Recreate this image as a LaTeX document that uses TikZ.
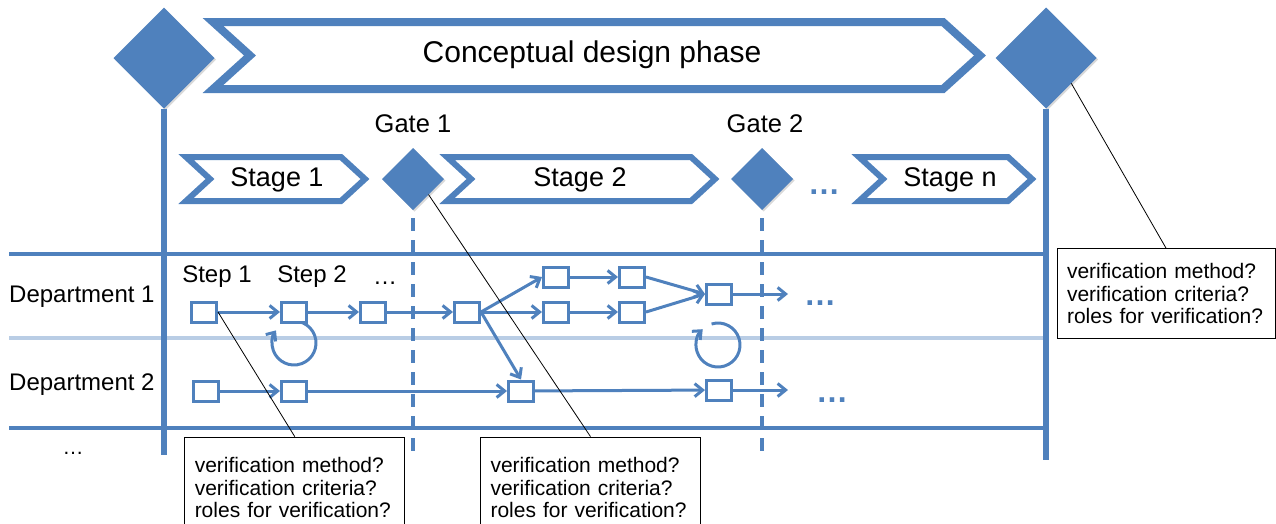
\documentclass[tikz,border=0pt]{standalone}
\usepackage{fontspec}
\setmainfont{Liberation Sans}
\usetikzlibrary{arrows.meta,shapes.geometric,shadows,calc}
\definecolor{ofblue}{HTML}{4F81BD}
\definecolor{lanefaint}{HTML}{B9CDE5}
\begin{document}
\begin{tikzpicture}[x=1pt, y=-1pt,
  lane/.style={draw=ofblue, line width=4pt},
  faint/.style={draw=lanefaint, line width=3.5pt},
  axis/.style={draw=ofblue, line width=6pt},
  gateline/.style={draw=ofblue, line width=3.5pt, dash pattern=on 13pt off 9pt},
  softshadow/.style={drop shadow={shadow xshift=1.5pt, shadow yshift=-1.5pt, opacity=.3}},
  gate/.style={diamond, fill=ofblue, inner sep=0pt, outer sep=0pt,
    minimum width=62pt, minimum height=62pt, softshadow},
  biggate/.style={gate, minimum width=101pt, minimum height=101pt},
  chev/.style={draw=ofblue, fill=white, line width=6pt, line join=miter},
  bigchev/.style={chev, line width=8pt},
  proc/.style={draw=ofblue, fill=white, line width=3pt, minimum width=25pt,
    minimum height=20pt, inner sep=0pt, softshadow},
  flow/.style={draw=ofblue, line width=3pt, -{Straight Barb[length=8pt, width=13pt]}},
  cyc/.style={draw=ofblue, line width=3pt, -{Straight Barb[length=7pt, width=12pt]}},
  note/.style={draw=black, line width=0.8pt, fill=white, align=left, text width=200pt,
    inner xsep=10pt, inner ysep=0pt, minimum height=101pt,
    font={\fontsize{21}{22.5}\selectfont}},
  callout/.style={draw=black, line width=0.8pt},
  lbl/.style={font={\fontsize{24}{28}\selectfont}, inner sep=0pt},
  stagetxt/.style={font={\fontsize{27}{30}\selectfont}, inner sep=0pt},
  more/.style={text=ofblue, font={\fontsize{32}{32}\selectfont\bfseries}, inner sep=0pt},
]
\useasboundingbox (0,0) rectangle (1276,523);

% swim lanes
\draw[lane]  (9,254) -- (1046,254);
\draw[faint] (9,338) -- (1046,338);
\draw[lane]  (9,428) -- (1046,428);

% phase boundaries
\coordinate (gLend) at (164,455);
\coordinate (gRend) at (1046,460);
\node[biggate] (gL) at (164,58) {};
\node[biggate] (gR) at (1046,58) {};
\draw[axis] (gL.south) -- (gLend);
\draw[axis] (gR.south) -- (gRend);

% phase banner
\draw[bigchev] (213,22) -- (943,22) -- (980,55.5) -- (943,89) -- (213,89) -- (250,55.5) -- cycle;
\node[font={\fontsize{30}{34}\selectfont}, inner sep=0pt] (phase) at (592,55) {Conceptual design phase};

% stages and gates
\draw[chev] (186,157) -- (341,157) -- (365,179) -- (341,201) -- (186,201) -- (210,179) -- cycle;
\node[stagetxt] (s1) at (277,180) {Stage 1};
\draw[chev] (447,157) -- (691,157) -- (715,179) -- (691,201) -- (447,201) -- (471,179) -- cycle;
\node[stagetxt] (s2) at (580,180) {Stage 2};
\draw[chev] (859,157) -- (1008,157) -- (1032,179) -- (1008,201) -- (859,201) -- (883,179) -- cycle;
\node[stagetxt] (sn) at (950,180) {Stage n};
\node[more] (sdots) at (824,192) {…};

\node[gate] (g1) at (413,179) {};
\node[gate] (g2) at (762,179) {};
\node[font={\fontsize{25.5}{28}\selectfont}, inner sep=0pt] (g1t) at (413,124) {Gate 1};
\node[font={\fontsize{25.5}{28}\selectfont}, inner sep=0pt] (g2t) at (765,124) {Gate 2};

\coordinate (g1end) at (413,452);
\coordinate (g2end) at (762,452);
\draw[gateline] ([yshift=-8pt]g1.south) -- (g1end);
\draw[gateline] ([yshift=-8pt]g2.south) -- (g2end);

% department labels
\node[lbl, anchor=west] (d1) at (9,297) {Department 1};
\node[lbl, anchor=west] (d2) at (9,385) {Department 2};
\node[font={\fontsize{21}{24}\selectfont}, inner sep=0pt] (dmore) at (73,453) {…};
\node[lbl] (st1) at (217,277) {Step 1};
\node[lbl] (st2) at (312,277) {Step 2};
\node[font={\fontsize{24}{28}\selectfont}, inner sep=0pt] (stmore) at (385,283) {…};

% iteration loops
\coordinate (c1) at (294,343);
\coordinate (c2) at (718,345);
\draw[cyc] ([shift={(-110:22)}]c1) arc[start angle=-110, end angle=215, radius=22];
\draw[cyc] ([shift={(-107:22)}]c2) arc[start angle=-107, end angle=226, radius=22];

% process steps
\node[proc] (a1) at (204,312) {};
\node[proc] (a2) at (294,312) {};
\node[proc] (a3) at (373,312) {};
\node[proc] (a4) at (467,312) {};
\node[proc] (u5) at (556,277) {};
\node[proc] (u6) at (632,277) {};
\node[proc] (l5) at (556,312) {};
\node[proc] (l6) at (632,312) {};
\node[proc] (a7) at (719,294) {};
\node[proc] (b1) at (206,391) {};
\node[proc] (b2) at (294,391) {};
\node[proc] (b3) at (521,391) {};
\node[proc] (b4) at (719,390) {};
\coordinate (e1) at (788,294);
\coordinate (e2) at (788,390);

\draw[flow] (a1) -- (a2);
\draw[flow] (a2) -- (a3);
\draw[flow] (a3) -- (a4);
\draw[flow] (a4.east) -- (u5.west);
\draw[flow] (a4.east) -- (l5.west);
\draw[flow] (a4.east) -- (b3.north);
\draw[flow] (u5) -- (u6);
\draw[flow] (l5) -- (l6);
\draw[flow] (u6.east) -- (a7.west);
\draw[flow] (l6.east) -- (a7.west);
\draw[flow] (a7) -- (e1);
\draw[flow] (b1) -- (b2);
\draw[flow] (b2) -- (b3);
\draw[flow] (b3) -- (b4);
\draw[flow] (b4) -- (e2);

\node[more] (m1) at (820,303) {…};
\node[more] (m2) at (832,400) {…};

% verification notes
\node[note] (cb1) at (294.75,487.5) {verification method?\\verification criteria?\\roles for verification?};
\node[note] (cb2) at (590.5,487.5) {verification method?\\verification criteria?\\roles for verification?};
\node[note, text width=198pt, minimum height=90pt] (cbR) at (1166,293.5) {verification method?\\verification criteria?\\roles for verification?};

\draw[callout] (a1.east) -- (cb1.north);
\draw[callout] (g1.south east) -- (cb2.north);
\draw[callout] (gR.south east) -- (cbR.north);
\end{tikzpicture}
\end{document}
